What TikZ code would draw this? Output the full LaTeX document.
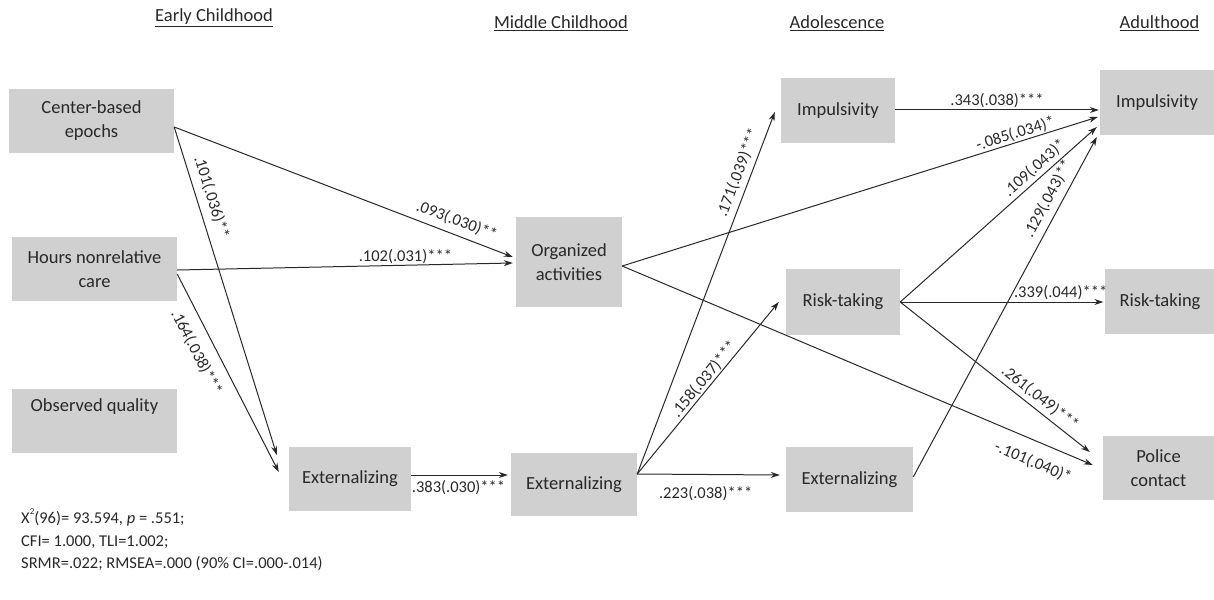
\documentclass[tikz,border=0pt]{standalone}
\usepackage{fontspec}
\setmainfont{Carlito}
\usetikzlibrary{calc,arrows.meta}
\definecolor{boxgray}{RGB}{208,208,208}
\definecolor{ink}{RGB}{40,40,40}
\begin{document}
\begin{tikzpicture}[x=1pt,y=-1pt,
 box/.style={fill=boxgray, draw=none, inner sep=0pt, align=center, text=ink, font=\fontsize{18.5}{24}\selectfont},
 arr/.style={draw=ink, line width=1pt, -{Stealth[length=9pt,width=6pt]}},
 lab/.style={font=\fontsize{16.5}{20}\selectfont, text=ink, inner sep=1pt},
 ttl/.style={font=\fontsize{18.5}{22}\selectfont, text=ink},
 fittxt/.style={font=\fontsize{16.5}{22.5}\selectfont, text=ink, align=left, inner sep=0pt}]
\useasboundingbox (0,0) rectangle (1214,599);
% titles
\node[ttl] (t1) at (214,18) {\underline{Early Childhood}};
\node[ttl] (t2) at (561,23) {\underline{Middle Childhood}};
\node[ttl] (t3) at (837,23) {\underline{Adolescence}};
\node[ttl] (t4) at (1159.5,23) {\underline{Adulthood}};
% boxes
\node[box, minimum width=165pt, minimum height=64pt] (A) at (91.5,121) {Center-based\\epochs};
\node[box, minimum width=165pt, minimum height=64pt] (B) at (94.5,269) {Hours nonrelative\\care};
\node[box, minimum width=165pt, minimum height=64pt] (C) at (94.5,421) {Observed quality\\\strut};
\node[box, minimum width=122pt, minimum height=64pt] (D) at (350,479) {Externalizing};
\node[box, minimum width=106pt, minimum height=90pt] (E) at (569,262) {Organized\\activities};
\node[box, minimum width=126pt, minimum height=63pt] (F) at (574,484.5) {Externalizing};
\node[box, minimum width=114pt, minimum height=65pt] (G) at (838,110.5) {Impulsivity};
\node[box, minimum width=114pt, minimum height=66pt] (H) at (843,302) {Risk-taking};
\node[box, minimum width=127pt, minimum height=65pt] (I) at (849.5,479.5) {Externalizing};
\node[box, minimum width=114pt, minimum height=65pt] (J) at (1157,102.5) {Impulsivity};
\node[box, minimum width=111pt, minimum height=65pt] (K) at (1160,301.5) {Risk-taking};
\node[box, minimum width=111pt, minimum height=64pt] (L) at (1158.5,468) {Police\\contact};
% arrows
\draw[arr] ($(A.east)+(0,6)$) -- ($(D.west)+(-12,-24)$) node[lab, pos=0.227, sloped, above=6pt] {.101(.036)**};
\draw[arr] ($(B.east)+(0,5)$) -- ($(D.west)+(-10,-7)$) node[lab, pos=0.354, sloped, below=10pt] {.164(.038)***};
\draw[arr] ($(A.east)+(0,6)$) -- ($(E.west)+(-3,-5)$) node[lab, pos=0.82, sloped, above=5pt] {.093(.030)**};
\draw[arr] ($(B.east)+(0,1)$) -- ($(E.west)+(-3,1)$) node[lab, pos=0.68, above=0pt] {.102(.031)***};
\draw[arr] ($(D.east)+(0,-4)$) -- ($(F.west)+(-3,-9.5)$) node[lab, pos=0.49, below=4pt] {.383(.030)***};
\draw[arr] ($(E.east)+(0,4)$) -- ($(J.west)+(-2,14.5)$) node[lab, pos=0.832, sloped, above=0pt] {-.085(.034)*};
\draw[arr] ($(E.east)+(0,4)$) -- ($(L.west)+(-10,-3)$) node[lab, pos=0.89, sloped, below=12pt] {-.101(.040)*};
\draw[arr] ($(F.east)+(0,-10.5)$) -- ($(G.west)+(-6,1.5)$) node[lab, pos=0.82, sloped, above=4pt] {.171(.039)***};
\draw[arr] ($(F.east)+(0,-10.5)$) -- ($(H.west)+(-7,0)$) node[lab, pos=0.52, sloped, above=0pt] {.158(.037)***};
\draw[arr] ($(F.east)+(0,-10.5)$) -- ($(I.west)+(-6,-4.5)$) node[lab, pos=0.48, below=10pt] {.223(.038)***};
\draw[arr] ($(G.east)+(0,-0.5)$) -- ($(J.west)+(-1,7.5)$) node[lab, pos=0.5, above=1pt] {.343(.038)***};
\draw[arr] (H.east) -- ($(J.west)+(-3,24.5)$) node[lab, pos=0.72, sloped, above=2pt] {.109(.043)*};
\draw[arr] (H.east) -- ($(K.west)+(-1,0.5)$) node[lab, pos=0.79, above=1pt] {.339(.044)***};
\draw[arr] (H.east) -- ($(L.west)+(-13,-16)$) node[lab, pos=0.70, sloped, above=3pt] {.261(.049)***};
\draw[arr] ($(I.east)+(0,-2.5)$) -- ($(J.west)+(-3,34.5)$) node[lab, pos=0.80, sloped, above=5pt] {.129(.043)**};
% fit statistics
\node[fittxt, anchor=west] (fit) at (21,540) {X\raisebox{1.1ex}{\fontsize{9}{9}\selectfont 2}(96)= 93.594, \textit{p} = .551;\\CFI= 1.000, TLI=1.002;\\SRMR=.022; RMSEA=.000 (90\% CI=.000-.014)};
\end{tikzpicture}
\end{document}
